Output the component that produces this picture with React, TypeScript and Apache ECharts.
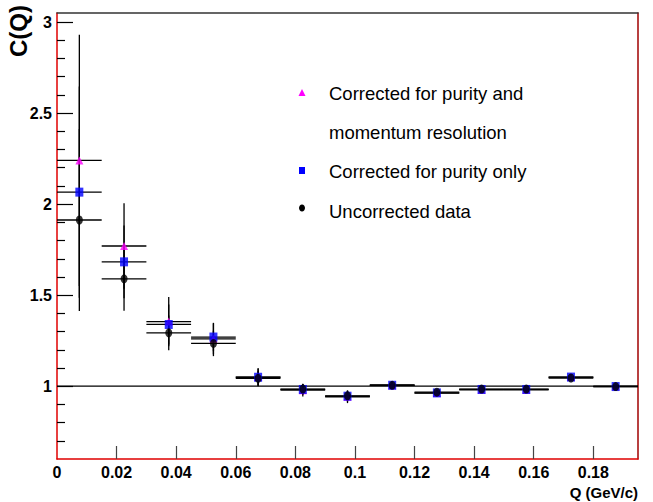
import React, { useEffect, useRef } from "react";
import * as echarts from "echarts";

// Bin centres of Q (GeV/c), half bin width 0.0075
const qCenters = [0.0075, 0.0225, 0.0375, 0.0525, 0.0675, 0.0825, 0.0975, 0.1125, 0.1275, 0.1425, 0.1575, 0.1725, 0.1875];
const qHalfWidth = 0.0075;

// Corrected for purity and momentum resolution
const triValues = [2.24, 1.77, 1.355, 1.26, 1.05, 0.978, 0.942, 1.005, 0.962, 0.98, 0.98, 1.05, 1.0];
const triErrors = [0.69, 0.235, 0.135, 0.085, 0.05, 0.035, 0.035, 0.02, 0.016, 0.016, 0.016, 0.016, 0.012];
// Corrected for purity only
const sqValues = [2.066, 1.683, 1.339, 1.27, 1.049, 0.982, 0.945, 1.005, 0.963, 0.982, 0.982, 1.05, 0.998];
const sqErrors = [0.58, 0.2, 0.11, 0.078, 0.045, 0.03, 0.03, 0.02, 0.015, 0.015, 0.015, 0.015, 0.011];
// Uncorrected data
const ciValues = [1.913, 1.59, 1.293, 1.235, 1.043, 0.984, 0.947, 1.005, 0.967, 0.984, 0.984, 1.045, 0.998];
const ciErrors = [0.5, 0.175, 0.095, 0.07, 0.04, 0.028, 0.026, 0.018, 0.013, 0.013, 0.013, 0.013, 0.01];

const xTickValues = [0.02, 0.04, 0.06, 0.08, 0.1, 0.12, 0.14, 0.16, 0.18];
const xLabelValues = [0, 0.02, 0.04, 0.06, 0.08, 0.1, 0.12, 0.14, 0.16, 0.18];
const yMajorValues = [1, 1.5, 2, 2.5, 3];
const yMinorValues = [0.7, 0.8, 0.9, 1.1, 1.2, 1.3, 1.4, 1.6, 1.7, 1.8, 1.9, 2.1, 2.2, 2.3, 2.4, 2.6, 2.7, 2.8, 2.9];

const legendLabels = ["Corrected for purity and", "momentum resolution", "Corrected for purity only", "Uncorrected data"];

const FONT = "Liberation Sans, Arial, Helvetica, sans-serif";

function errData(vals: number[], errs: number[]) {
  return qCenters.map((q, i) => [q, vals[i], errs[i]]);
}
function ptData(vals: number[]) {
  return qCenters.map((q, i) => [q, vals[i]]);
}

function errorSeries(name: string, vals: number[], errs: number[]) {
  return {
    type: "custom",
    name,
    xAxisIndex: 0,
    yAxisIndex: 0,
    z: 3,
    data: errData(vals, errs),
    renderItem: (params: any, api: any) => {
      const x = api.value(0);
      const y = api.value(1);
      const e = api.value(2);
      const pL = api.coord([x - qHalfWidth, y]);
      const pR = api.coord([x + qHalfWidth, y]);
      const pT = api.coord([x, y + e]);
      const pB = api.coord([x, y - e]);
      const st = { stroke: "#000", lineWidth: 1.3 };
      return {
        type: "group",
        children: [
          { type: "line", shape: { x1: pL[0], y1: pL[1], x2: pR[0], y2: pR[1] }, style: st },
          { type: "line", shape: { x1: pT[0], y1: pT[1], x2: pB[0], y2: pB[1] }, style: st },
        ],
      };
    },
  };
}

export default function App() {
  const ref = useRef<HTMLDivElement>(null);
  useEffect(() => {
    if (!ref.current) return;
    const chart = echarts.init(ref.current, undefined, { renderer: "svg" });
    const labelStyle = { fontFamily: FONT, fontWeight: "bold", fontSize: 16, color: "#000" };
    const option: any = {
      animation: false,
      backgroundColor: "#fff",
      grid: { left: 57, right: 15, top: 13, bottom: 43, containLabel: false },
      xAxis: [
        {
          type: "value",
          min: 0,
          max: 0.195,
          position: "bottom",
          axisLine: { show: true, lineStyle: { color: "#e00000", width: 1.5 } },
          axisTick: { show: true, inside: true, length: 13, customValues: xTickValues, lineStyle: { color: "#444", width: 1.2 } },
          axisLabel: { ...labelStyle, margin: 5, customValues: xLabelValues, formatter: (v: number) => String(+v.toFixed(3)) },
          splitLine: { show: false },
        },
        {
          type: "value",
          min: 0,
          max: 0.195,
          position: "top",
          axisLine: { show: true, lineStyle: { color: "#333", width: 1.5 } },
          axisTick: { show: false },
          axisLabel: { show: false },
          splitLine: { show: false },
        },
      ],
      yAxis: [
        {
          type: "value",
          min: 0.6,
          max: 3.05,
          position: "left",
          axisLine: { show: true, lineStyle: { color: "#e00000", width: 1.5 } },
          axisTick: { show: true, inside: true, length: 16, customValues: yMajorValues, lineStyle: { color: "#000", width: 1.2 } },
          axisLabel: { ...labelStyle, margin: 5, customValues: yMajorValues, formatter: (v: number) => String(+v.toFixed(2)) },
          splitLine: { show: false },
        },
        {
          type: "value",
          min: 0.6,
          max: 3.05,
          position: "left",
          axisLine: { show: false },
          axisTick: { show: true, inside: true, length: 8, customValues: yMinorValues, lineStyle: { color: "#000", width: 1.2 } },
          axisLabel: { show: false },
          splitLine: { show: false },
        },
        {
          type: "value",
          min: 0.6,
          max: 3.05,
          position: "right",
          axisLine: { show: true, lineStyle: { color: "#a00000", width: 1.5 } },
          axisTick: { show: false },
          axisLabel: { show: false },
          splitLine: { show: false },
        },
      ],
      series: [
        {
          type: "line",
          name: "unity",
          xAxisIndex: 0,
          yAxisIndex: 0,
          z: 2,
          data: [[0, 1], [0.195, 1]],
          symbol: "none",
          lineStyle: { color: "#000", width: 1.3 },
          silent: true,
        },
        errorSeries("err-tri", triValues, triErrors),
        errorSeries("err-sq", sqValues, sqErrors),
        errorSeries("err-ci", ciValues, ciErrors),
        {
          type: "scatter",
          name: "Corrected for purity and momentum resolution",
          z: 5,
          data: ptData(triValues),
          symbol: "triangle",
          symbolSize: [8, 8],
          itemStyle: { color: "#ff00ff" },
        },
        {
          type: "scatter",
          name: "Corrected for purity only",
          z: 6,
          data: ptData(sqValues),
          symbol: "rect",
          symbolSize: [8, 9],
          itemStyle: { color: "#0000ff" },
        },
        {
          type: "scatter",
          name: "Uncorrected data",
          z: 7,
          data: ptData(ciValues),
          symbol: "circle",
          symbolSize: [7, 9],
          itemStyle: { color: "#000" },
        },
      ],
      graphic: [
        {
          type: "text",
          x: 18,
          y: 31,
          rotation: Math.PI / 2,
          style: { text: "C(Q)", fontFamily: FONT, fontWeight: "bold", fontSize: 24, fill: "#000", align: "center", verticalAlign: "middle" },
        },
        {
          type: "text",
          x: 638,
          y: 492,
          style: { text: "Q (GeV/c)", fontFamily: FONT, fontWeight: "bold", fontSize: 15, fill: "#000", align: "right", verticalAlign: "middle" },
        },
        { type: "polygon", shape: { points: [[302, 89], [298.5, 96], [305.5, 96]] }, style: { fill: "#ff00ff" } },
        { type: "rect", shape: { x: 299, y: 167, width: 6, height: 7 }, style: { fill: "#0000ff" } },
        { type: "ellipse", shape: { cx: 302, cy: 208, rx: 3, ry: 3.5 }, style: { fill: "#000" } },
        { type: "text", x: 329, y: 93, style: { text: legendLabels[0], fontFamily: FONT, fontSize: 18.5, fill: "#000", verticalAlign: "middle" } },
        { type: "text", x: 329, y: 132, style: { text: legendLabels[1], fontFamily: FONT, fontSize: 18.5, fill: "#000", verticalAlign: "middle" } },
        { type: "text", x: 329, y: 171, style: { text: legendLabels[2], fontFamily: FONT, fontSize: 18.5, fill: "#000", verticalAlign: "middle" } },
        { type: "text", x: 329, y: 211, style: { text: legendLabels[3], fontFamily: FONT, fontSize: 18.5, fill: "#000", verticalAlign: "middle" } },
      ],
    };
    chart.setOption(option);
    return () => chart.dispose();
  }, []);
  return <div ref={ref} style={{ width: 653, height: 502, position: "fixed", left: 0, top: 0 }} />;
}
